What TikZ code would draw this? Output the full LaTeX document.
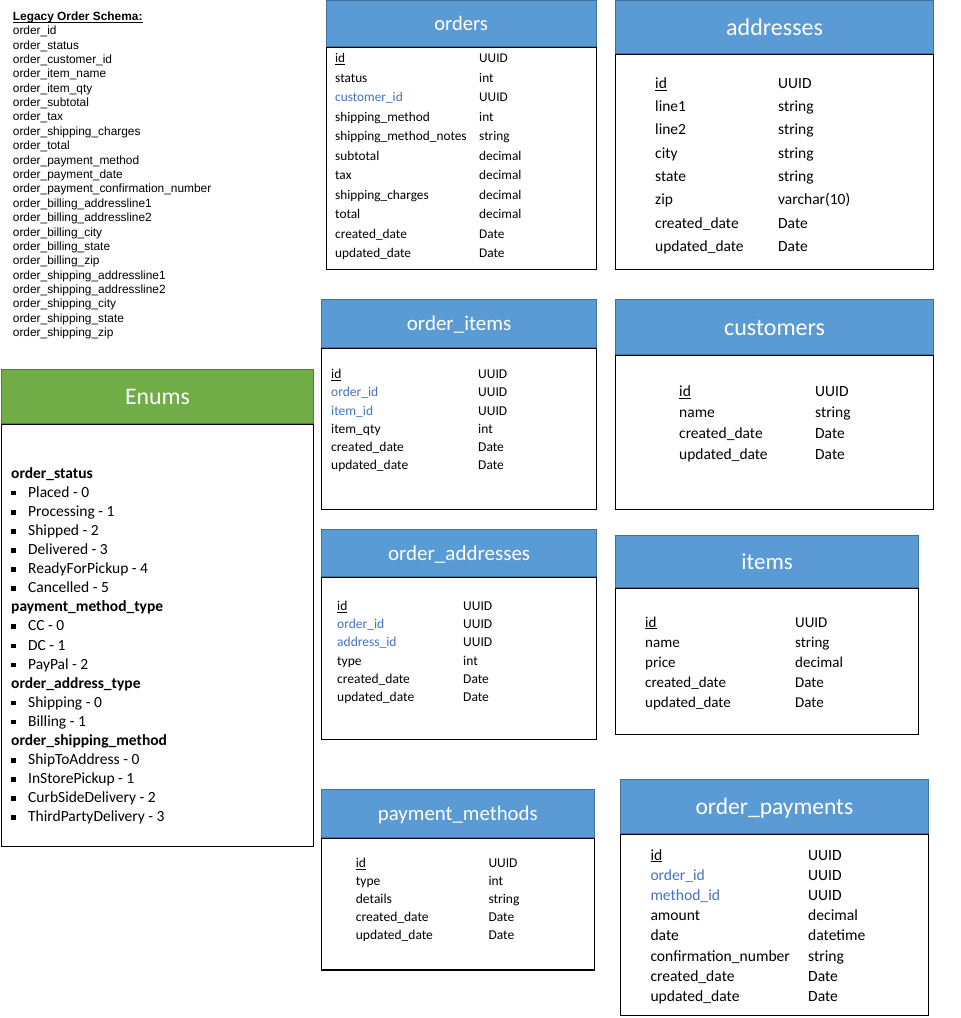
\documentclass[tikz,border=0pt]{standalone}
\usepackage{fontspec}
\setmainfont{Carlito}
\newfontfamily\arialfont{Liberation Sans}
\usetikzlibrary{positioning}

\definecolor{headblue}{HTML}{5B9BD5}
\definecolor{headline}{HTML}{41719C}
\definecolor{enumgreen}{HTML}{70AD47}
\definecolor{enumline}{HTML}{507E32}
\definecolor{fkblue}{HTML}{4472C4}

\newcommand{\fsize}[1]{\fontsize{#1}{#1}\selectfont}
\newcommand{\pkey}[1]{\underline{\smash{#1}}}
\newcommand{\fkey}[1]{\textcolor{fkblue}{#1}}

\tikzset{
	tblhead/.style={draw=headline, fill=headblue, text=white, inner sep=0pt, line width=0.8pt},
	enumhead/.style={tblhead, draw=enumline, fill=enumgreen},
	titlesize/.style={font=\fsize{#1}, text height=0.68*#1pt, text depth=0pt},
	tblbody/.style={draw=black, fill=white, anchor=north west, inner sep=0pt, line width=1.2pt},
	fld/.style={anchor=base west, inner sep=0pt},
	bullet/.style={fill=black, minimum size=4.5pt, inner sep=0pt},
}

\begin{document}
\begin{tikzpicture}[x=1pt,y=-1pt]
\useasboundingbox (0,0) rectangle (961,1018);

% legacy schema
\node[fld, font=\arialfont\bfseries\fsize{11.9}] (legacy) at (12.7,20.7) {\pkey{Legacy Order Schema:}};
\foreach \fname [count=\i] in {order\_id, order\_status, order\_customer\_id, order\_item\_name, order\_item\_qty, order\_subtotal, order\_tax, order\_shipping\_charges, order\_total, order\_payment\_method, order\_payment\_date, order\_payment\_confirmation\_number, order\_billing\_addressline1, order\_billing\_addressline2, order\_billing\_city, order\_billing\_state, order\_billing\_zip, order\_shipping\_addressline1, order\_shipping\_addressline2, order\_shipping\_city, order\_shipping\_state, order\_shipping\_zip}
	\node[fld, font=\arialfont\fsize{11.9}] (legacy-\i) at (12.7,{34.7+14.38*(\i-1)}) {\fname};

% enums
\begin{scope}[font=\fsize{15.5}]
\node[tblbody, minimum width=312pt, minimum height=422pt] (enums) at (1,424) {};
\node[enumhead, minimum width=312pt, minimum height=54pt, above=0pt of enums, titlesize=23.8] (enums-head) {Enums};
\foreach \k/\txt in {1/order\_status, 8/payment\_method\_type, 12/order\_address\_type, 15/order\_shipping\_method}
	\node[fld, font=\fsize{15.5}\bfseries] (enums-h\k) at (11,{478.3+19.08*(\k-1)}) {\txt};
\foreach \k/\txt in {2/Placed - 0, 3/Processing - 1, 4/Shipped - 2, 5/Delivered - 3, 6/ReadyForPickup - 4, 7/Cancelled - 5, 9/CC - 0, 10/DC - 1, 11/PayPal - 2, 13/Shipping - 0, 14/Billing - 1, 16/ShipToAddress - 0, 17/InStorePickup - 1, 18/CurbSideDelivery - 2, 19/ThirdPartyDelivery - 3}
{
	\pgfmathsetmacro\rowy{478.3+19.08*(\k-1)}
	\node[fld] (enums-i\k) at (28,\rowy) {\txt};
	\node[bullet] (enums-b\k) at (13.5,\rowy-4.2) {};
}
\end{scope}

% orders
\begin{scope}[font=\fsize{13.3}]
\node[tblbody, minimum width=270pt, minimum height=222pt] (orders) at (325.5,46.5) {};
\node[tblhead, minimum width=270pt, minimum height=45.5pt, above=0pt of orders, titlesize=20.5] (orders-head) {orders};
\foreach \fname/\ftype [count=\i] in {\pkey{id}/UUID, status/int, \fkey{customer\_id}/UUID, shipping\_method/int, shipping\_method\_notes/string, subtotal/decimal, tax/decimal, shipping\_charges/decimal, total/decimal, created\_date/Date, updated\_date/Date}
{
	\pgfmathsetmacro\rowy{62.6+19.5*(\i-1)}
	\node[fld] (orders-n\i) at (335,\rowy) {\fname};
	\node[fld] (orders-t\i) at (479,\rowy) {\ftype};
}
\end{scope}

% addresses
\begin{scope}[font=\fsize{15.5}]
\node[tblbody, minimum width=318pt, minimum height=215pt] (addresses) at (615,54) {};
\node[tblhead, minimum width=318pt, minimum height=53pt, above=0pt of addresses, titlesize=24] (addresses-head) {addresses};
\foreach \fname/\ftype [count=\i] in {\pkey{id}/UUID, line1/string, line2/string, city/string, state/string, zip/varchar(10), created\_date/Date, updated\_date/Date}
{
	\pgfmathsetmacro\rowy{88.3+23.33*(\i-1)}
	\node[fld] (addresses-n\i) at (655,\rowy) {\fname};
	\node[fld] (addresses-t\i) at (778,\rowy) {\ftype};
}
\end{scope}

% order_items
\begin{scope}[font=\fsize{13.5}]
\node[tblbody, minimum width=275pt, minimum height=161pt] (items-link) at (321,348) {};
\node[tblhead, minimum width=275pt, minimum height=48pt, above=0pt of items-link, titlesize=21] (items-link-head) {order\_items};
\foreach \fname/\ftype [count=\i] in {\pkey{id}/UUID, \fkey{order\_id}/UUID, \fkey{item\_id}/UUID, item\_qty/int, created\_date/Date, updated\_date/Date}
{
	\pgfmathsetmacro\rowy{378.6+18.27*(\i-1)}
	\node[fld] (items-link-n\i) at (331,\rowy) {\fname};
	\node[fld] (items-link-t\i) at (478,\rowy) {\ftype};
}
\end{scope}

% customers
\begin{scope}[font=\fsize{15.5}]
\node[tblbody, minimum width=318pt, minimum height=154pt] (customers) at (615,355) {};
\node[tblhead, minimum width=318pt, minimum height=55pt, above=0pt of customers, titlesize=24] (customers-head) {customers};
\foreach \fname/\ftype [count=\i] in {\pkey{id}/UUID, name/string, created\_date/Date, updated\_date/Date}
{
	\pgfmathsetmacro\rowy{396.7+21*(\i-1)}
	\node[fld] (customers-n\i) at (679,\rowy) {\fname};
	\node[fld] (customers-t\i) at (815,\rowy) {\ftype};
}
\end{scope}

% order_addresses
\begin{scope}[font=\fsize{13.5}]
\node[tblbody, minimum width=275pt, minimum height=162pt] (addr-link) at (321,577) {};
\node[tblhead, minimum width=275pt, minimum height=47pt, above=0pt of addr-link, titlesize=21] (addr-link-head) {order\_addresses};
\foreach \fname/\ftype [count=\i] in {\pkey{id}/UUID, \fkey{order\_id}/UUID, \fkey{address\_id}/UUID, type/int, created\_date/Date, updated\_date/Date}
{
	\pgfmathsetmacro\rowy{610.3+18.27*(\i-1)}
	\node[fld] (addr-link-n\i) at (337,\rowy) {\fname};
	\node[fld] (addr-link-t\i) at (463,\rowy) {\ftype};
}
\end{scope}

% items
\begin{scope}[font=\fsize{15}]
\node[tblbody, minimum width=303pt, minimum height=146pt] (items) at (615,588) {};
\node[tblhead, minimum width=303pt, minimum height=52pt, above=0pt of items, titlesize=23] (items-head) {items};
\foreach \fname/\ftype [count=\i] in {\pkey{id}/UUID, name/string, price/decimal, created\_date/Date, updated\_date/Date}
{
	\pgfmathsetmacro\rowy{627.1+20*(\i-1)}
	\node[fld] (items-n\i) at (645,\rowy) {\fname};
	\node[fld] (items-t\i) at (795,\rowy) {\ftype};
}
\end{scope}

% payment_methods
\begin{scope}[font=\fsize{13.5}]
\node[tblbody, minimum width=272.5pt, minimum height=132pt] (methods) at (321,837.3) {};
\node[tblhead, minimum width=272.5pt, minimum height=47.3pt, above=0pt of methods, titlesize=20.8] (methods-head) {payment\_methods};
\foreach \fname/\ftype [count=\i] in {\pkey{id}/UUID, type/int, details/string, created\_date/Date, updated\_date/Date}
{
	\pgfmathsetmacro\rowy{867.6+18*(\i-1)}
	\node[fld] (methods-n\i) at (355.7,\rowy) {\fname};
	\node[fld] (methods-t\i) at (488.3,\rowy) {\ftype};
}
\end{scope}

% order_payments
\begin{scope}[font=\fsize{15.6}]
\node[tblbody, minimum width=308.5pt, minimum height=181.7pt] (payments) at (619.5,833.3) {};
\node[tblhead, minimum width=308.5pt, minimum height=53.3pt, above=0pt of payments, titlesize=23.5] (payments-head) {order\_payments};
\foreach \fname/\ftype [count=\i] in {\pkey{id}/UUID, \fkey{order\_id}/UUID, \fkey{method\_id}/UUID, amount/decimal, date/datetime, confirmation\_number/string, created\_date/Date, updated\_date/Date}
{
	\pgfmathsetmacro\rowy{860+20.24*(\i-1)}
	\node[fld] (payments-n\i) at (650.3,\rowy) {\fname};
	\node[fld] (payments-t\i) at (808,\rowy) {\ftype};
}
\end{scope}

\end{tikzpicture}
\end{document}
